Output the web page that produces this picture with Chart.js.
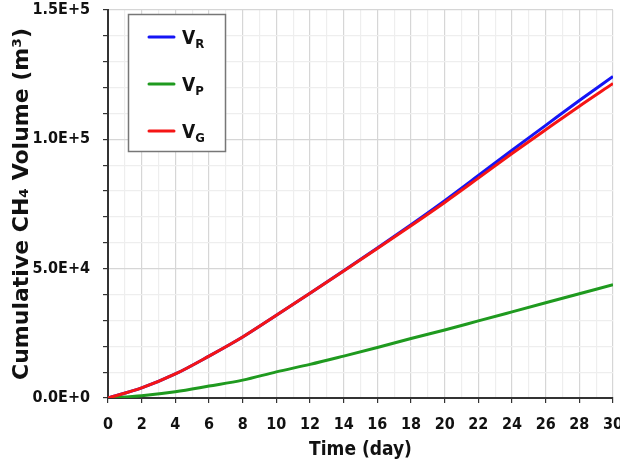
<!DOCTYPE html>
<html lang="en">
<head>
    <meta charset="utf-8" />
    <title>Cumulative CH4 volume</title>
    <script src="https://cdn.jsdelivr.net/npm/chart.js@4.4.1/dist/chart.umd.min.js"></script>
    <style>
        html, body { margin: 0; padding: 0; background: #fff; }
        #wrap { width: 620px; height: 462px; }
    </style>
</head>
<body>
<div id="wrap"><canvas id="myChart"></canvas></div>
<script type="text/javascript">
    // days
    var days = [0, 2, 4, 6, 8, 10, 12, 14, 16, 18, 20, 22, 24, 26, 28, 30];
    // series (m3)
    var vR = [0, 3900, 9300, 16200, 23600, 32000, 40500, 49200, 58000, 67000, 76300, 86000, 95800, 105400, 115000, 124300];
    var vP = [0, 900, 2400, 4600, 6900, 10100, 13000, 16200, 19500, 23000, 26300, 29800, 33300, 36800, 40300, 43800];
    var vG = [0, 3900, 9300, 16200, 23600, 32000, 40500, 49100, 57800, 66600, 75600, 85000, 94500, 103700, 112800, 121600];
    var yTicks = [0, 50000, 100000, 150000];

    var legendItems = [
        { name: 'V', sub: 'R', color: '#1515f5' },
        { name: 'V', sub: 'P', color: '#1f9a1f' },
        { name: 'V', sub: 'G', color: '#f51515' }
    ];

    function pts(arr) {
        var res = [];
        for (var i = 0; i < days.length; i++) {
            res.push({ x: days[i], y: arr[i] });
        }
        return res;
    }

    var tickFont = { family: '"DejaVu Sans Condensed", "DejaVu Sans", sans-serif', size: 16, weight: 'bold' };

    // legend box drawn by hand so the subscripts come out right
    var boxLegend = {
        id: 'boxLegend',
        afterDraw: function(chart) {
            var ctx = chart.ctx;
            ctx.save();
            ctx.fillStyle = '#fff';
            ctx.fillRect(128, 14, 97, 137);
            ctx.strokeStyle = '#777';
            ctx.lineWidth = 1.5;
            ctx.strokeRect(128.5, 14.5, 97, 137);
            for (var i = 0; i < legendItems.length; i++) {
                var it = legendItems[i];
                var y = 37 + i * 47;
                ctx.strokeStyle = it.color;
                ctx.lineWidth = 3;
                ctx.lineCap = 'round';
                ctx.beginPath();
                ctx.moveTo(149, y);
                ctx.lineTo(174, y);
                ctx.stroke();
                ctx.fillStyle = '#111';
                ctx.textBaseline = 'alphabetic';
                ctx.font = 'bold 19px "DejaVu Sans Condensed", "DejaVu Sans", sans-serif';
                ctx.fillText(it.name, 182, y + 7);
                var w = ctx.measureText(it.name).width;
                ctx.font = 'bold 13px "DejaVu Sans Condensed", "DejaVu Sans", sans-serif';
                ctx.fillText(it.sub, 182 + w, y + 11);
            }
            ctx.restore();
        }
    };

    var ctx = document.getElementById('myChart');
    var myChart = new Chart(ctx, {
        type: 'line',
        data: {
            datasets: [
                { label: 'VR', data: pts(vR), borderColor: legendItems[0].color, order: 2 },
                { label: 'VP', data: pts(vP), borderColor: legendItems[1].color, order: 1 },
                { label: 'VG', data: pts(vG), borderColor: legendItems[2].color, order: 0 }
            ]
        },
        options: {
            responsive: true,
            maintainAspectRatio: false,
            animation: false,
            layout: { padding: { top: 10, right: 7, left: 0, bottom: 0 } },
            elements: {
                point: { radius: 0 },
                line: { borderWidth: 3, tension: 0.4, cubicInterpolationMode: 'monotone', fill: false }
            },
            plugins: {
                legend: { display: false },
                tooltip: { enabled: false }
            },
            scales: {
                x: {
                    type: 'linear',
                    min: 0,
                    max: 30,
                    afterFit: function(s) {
                        s.height = 64;
                        s.paddingLeft = 0;
                        s.paddingRight = 0;
                    },
                    ticks: {
                        stepSize: 1,
                        autoSkip: false,
                        maxRotation: 0,
                        padding: 12,
                        color: '#111',
                        font: tickFont,
                        callback: function(v) { return v % 2 === 0 ? String(v) : ''; }
                    },
                    grid: {
                        color: function(c) { return c.tick && c.tick.value % 2 === 0 ? '#d6d6d6' : '#eeeeee'; },
                        tickColor: function(c) { return c.tick && c.tick.value % 2 === 0 ? '#333' : 'rgba(0,0,0,0)'; },
                        tickLength: 5,
                        lineWidth: 1.2
                    },
                    border: { color: '#333', width: 2 },
                    title: {
                        display: true,
                        text: 'Time (day)',
                        color: '#111',
                        font: { family: '"DejaVu Sans Condensed", "DejaVu Sans", sans-serif', size: 19, weight: 'bold' },
                        padding: { top: 0, bottom: 1 }
                    }
                },
                y: {
                    min: 0,
                    max: 150000,
                    afterFit: function(s) {
                        s.width = 108;
                        s.paddingTop = 0;
                        s.paddingBottom = 0;
                    },
                    ticks: {
                        stepSize: 10000,
                        autoSkip: false,
                        padding: 13,
                        color: '#111',
                        font: tickFont,
                        callback: function(v) {
                            return yTicks.indexOf(v) >= 0 ? v.toExponential(1).toUpperCase() : '';
                        }
                    },
                    grid: {
                        color: function(c) { return c.tick && c.tick.value % 50000 === 0 ? '#d6d6d6' : '#eeeeee'; },
                        tickColor: '#333',
                        tickLength: 5,
                        lineWidth: 1.2
                    },
                    border: { color: '#333', width: 2 },
                    title: {
                        display: true,
                        text: 'Cumulative CH\u2084 Volume (m\u00b3)',
                        color: '#111',
                        font: { family: '"DejaVu Sans", sans-serif', size: 22, weight: 'bold' },
                        padding: { top: 9, bottom: 0 }
                    }
                }
            }
        },
        plugins: [boxLegend]
    });
</script>
</body>
</html>
